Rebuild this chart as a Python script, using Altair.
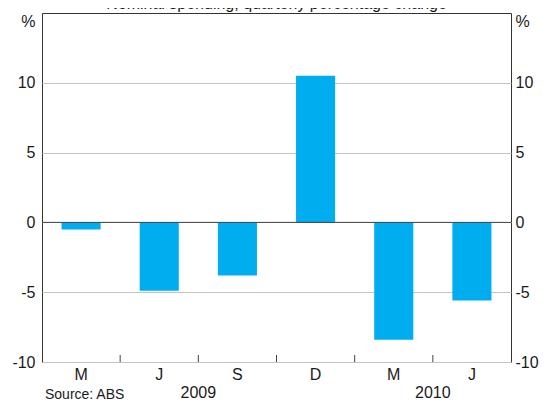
import altair as alt
import pandas as pd

# ---- data ----
quarters = ["Mar-2009", "Jun-2009", "Sep-2009", "Dec-2009", "Mar-2010", "Jun-2010"]
month_labels = ["M", "J", "S", "D", "M", "J"]
changes = [-0.5, -4.9, -3.8, 10.5, -8.4, -5.6]
year_labels = ["2009", "2010"]
year_anchor = ["Sep-2009", "Jun-2010"]  # year sits at the start of this quarter's band
y_ticks = [-10, -5, 0, 5, 10]
title_text = "Nominal spending, quarterly percentage change"
source_text = "Source: ABS"

W, H = 469, 349
FONT = "Liberation Sans"
TXT = "#1a1a1a"
BAR = "#00AEEF"
HYPHEN_LABEL = "datum.value < 0 ? '-' + abs(datum.value) : '' + datum.value"

bars_df = pd.DataFrame({"q": quarters, "v": changes, "m": month_labels})
ticks_df = pd.DataFrame({"q": quarters[1:]})
years_df = pd.DataFrame({"q": year_anchor, "t": year_labels})
zero_df = pd.DataFrame({"v": [0]})

xscale = alt.Scale(domain=quarters, paddingInner=0, paddingOuter=0)
yscale = alt.Scale(domain=[-10, 15], nice=False, zero=False)

bars = alt.Chart(bars_df).mark_bar(color=BAR, width=alt.RelativeBandSize(0.5)).encode(
    x=alt.X("q:N", sort=quarters, scale=xscale, axis=None),
    y=alt.Y("v:Q", scale=yscale,
            axis=alt.Axis(orient="left", values=y_ticks, grid=True, gridColor="#c4c4c4",
                          ticks=False, domain=False, labelPadding=7, labelFontSize=16,
                          labelFont=FONT, labelColor=TXT, labelExpr=HYPHEN_LABEL,
                          title="%", titleAngle=0, titleAlign="right", titleBaseline="middle",
                          titleX=-7, titleY=8, titleFontSize=16, titleFontWeight="normal",
                          titleFont=FONT, titleColor=TXT)),
)

months = alt.Chart(bars_df).mark_text(
    fontSize=16, font=FONT, color=TXT, baseline="middle", align="center"
).encode(
    x=alt.X("q:N", sort=quarters, scale=xscale, axis=None),
    y=alt.value(H + 13),
    text="m:N",
)

zero = alt.Chart(zero_df).mark_rule(color="#444", strokeWidth=1).encode(
    y=alt.Y("v:Q", scale=yscale,
            axis=alt.Axis(orient="right", values=y_ticks, grid=False,
                          ticks=False, domain=False, labelPadding=4, labelFontSize=16,
                          labelFont=FONT, labelColor=TXT, labelExpr=HYPHEN_LABEL,
                          title="%", titleAngle=0, titleAlign="left", titleBaseline="middle",
                          titleX=4, titleY=8, titleFontSize=16, titleFontWeight="normal",
                          titleFont=FONT, titleColor=TXT)),
)

xticks = alt.Chart(ticks_df).mark_rule(color="#444", strokeWidth=1).encode(
    x=alt.X("q:N", sort=quarters, scale=xscale, bandPosition=0, axis=None),
    y=alt.value(H),
    y2=alt.value(H - 7),
)

years = alt.Chart(years_df).mark_text(
    fontSize=16, font=FONT, color=TXT, baseline="middle", align="center"
).encode(
    x=alt.X("q:N", sort=quarters, scale=xscale, bandPosition=0, axis=None),
    y=alt.value(H + 31),
    text="t:N",
)

title = alt.Chart(pd.DataFrame({"t": [title_text]})).mark_text(
    fontSize=16, font=FONT, color=TXT, baseline="alphabetic", align="center"
).encode(x=alt.value(W / 2), y=alt.value(-4), text="t:N")

source = alt.Chart(pd.DataFrame({"t": [source_text]})).mark_text(
    fontSize=14, font=FONT, color=TXT, baseline="alphabetic", align="left"
).encode(x=alt.value(3), y=alt.value(H + 37), text="t:N")

chart = alt.layer(bars, months, zero, xticks, years, title, source).resolve_axis(
    y="independent"
).resolve_scale(y="shared", x="shared").properties(
    width=W, height=H,
    padding={"left": 34, "top": 5, "right": 28, "bottom": 42},
    autosize=alt.AutoSizeParams(type="none"),
    background="white",
).configure_view(stroke="#333", strokeWidth=1)

chart.save("out.html", embed_options={"renderer": "svg", "actions": False})
